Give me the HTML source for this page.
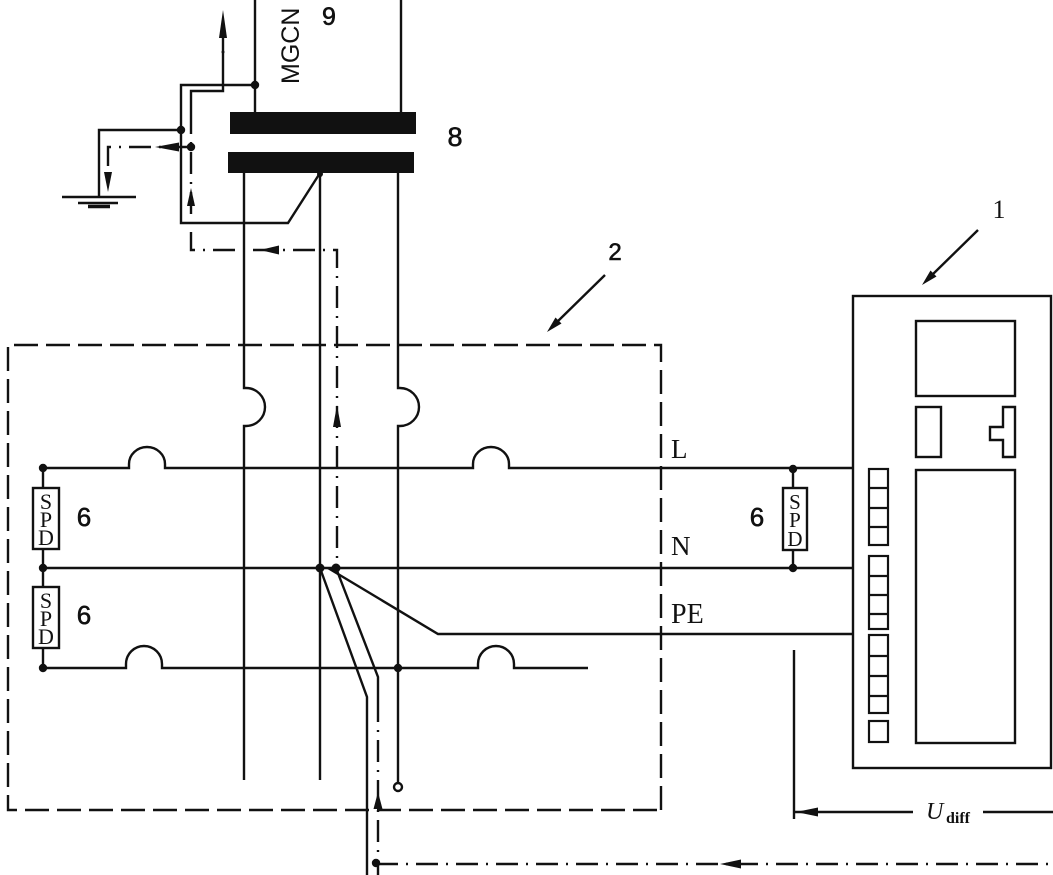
<!DOCTYPE html>
<html><head><meta charset="utf-8"><style>
html,body{margin:0;padding:0;background:#fff;}
svg{display:block;}
</style></head><body>
<svg width="1053" height="875" viewBox="0 0 1053 875" xmlns="http://www.w3.org/2000/svg">
<rect x="0" y="0" width="1053" height="875" fill="#fff"/>
<g fill="none" stroke="#111" stroke-width="2.4" stroke-linejoin="miter">
<line x1="255" y1="0" x2="255" y2="113"/>
<line x1="401" y1="0" x2="401" y2="113"/>
<polyline points="255,85 181,85 181,223 288,223 320,173"/>
<polyline points="181,130 99,130 99,197"/>
<line x1="62" y1="197" x2="136" y2="197"/>
<line x1="78" y1="203" x2="118" y2="203"/>
<line x1="88" y1="206.5" x2="110" y2="206.5" stroke-width="3.5"/>
<polyline points="223,60 223,91 191,91 191,112"/>
<path d="M244 173 V388 H246 A19 19 0 0 1 246 426 H244 V780"/>
<line x1="320" y1="173" x2="320" y2="780"/>
<path d="M398 173 V388 H400 A19 19 0 0 1 400 426 H398 V783"/>
<path d="M43 468 H129 V464 A18 17 0 0 1 165 464 V468 H473 V464 A18 17 0 0 1 509 464 V468 H853"/>
<line x1="43" y1="568" x2="853" y2="568"/>
<path d="M43 668 H126 V664 A18 18 0 0 1 162 664 V668 H478 V664 A18 18 0 0 1 514 664 V668 H588"/>
<polyline points="328,568 438,634 853,634"/>
<polyline points="320,568 367,697 367,875"/>
<polyline points="336,568 378,677 378,700"/>
<line x1="43" y1="468" x2="43" y2="488"/>
<rect x="33" y="488" width="26" height="61"/>
<line x1="43" y1="549" x2="43" y2="587"/>
<rect x="33" y="587" width="26" height="61"/>
<line x1="43" y1="648" x2="43" y2="668"/>
<line x1="793" y1="469" x2="793" y2="488"/>
<rect x="783" y="488" width="24" height="62"/>
<line x1="793" y1="550" x2="793" y2="568"/>
<polyline points="794,650 794,819"/>
<line x1="794" y1="812" x2="913" y2="812"/>
<line x1="983" y1="812" x2="1053" y2="812"/>
<rect x="853" y="296" width="198" height="472"/>
<rect x="916" y="321" width="99" height="75"/>
<rect x="916" y="407" width="25" height="50"/>
<path d="M1003 407 H1015 V457 H1003 V440 H990 V427 H1003 Z"/>
<rect x="916" y="470" width="99" height="273"/>
<g stroke-width="2.2">
<rect x="869" y="469" width="19" height="76"/>
<line x1="869" y1="488" x2="888" y2="488"/>
<line x1="869" y1="508" x2="888" y2="508"/>
<line x1="869" y1="527" x2="888" y2="527"/>
<rect x="869" y="556" width="19" height="73"/>
<line x1="869" y1="576" x2="888" y2="576"/>
<line x1="869" y1="595" x2="888" y2="595"/>
<line x1="869" y1="614" x2="888" y2="614"/>
<rect x="869" y="635" width="19" height="78"/>
<line x1="869" y1="656" x2="888" y2="656"/>
<line x1="869" y1="676" x2="888" y2="676"/>
<line x1="869" y1="696" x2="888" y2="696"/>
<rect x="869" y="721" width="19" height="21"/>
</g>
<circle cx="398" cy="787" r="4"/>
<line x1="605" y1="275" x2="556" y2="323"/>
<line x1="978" y1="230" x2="931" y2="276"/>
</g>
<g fill="none" stroke="#111" stroke-width="2.4" stroke-dasharray="24 8">
<path d="M661 810 V345 H8 V810 H661"/>
</g>
<g fill="none" stroke="#111" stroke-width="2.4" stroke-dasharray="22 8 2 8">
<line x1="223" y1="60" x2="223" y2="36"/>
<polyline points="191,112 191,250 337,250 337,568"/>
<polyline points="191,147 108,147 108,178"/>
<line x1="378" y1="700" x2="378" y2="875"/>
<line x1="376" y1="864" x2="1053" y2="864"/>
</g>
<g fill="#111" stroke="none">
<polygon points="223,10 219,38 227,38"/>
<circle cx="223" cy="52" r="1.5"/>
<polygon points="155,147 179,142.5 179,151.5"/>
<polygon points="108,192 104,172 112,172"/>
<polygon points="191,188 187,206 195,206"/>
<polygon points="260,250 279,245.5 279,254.5"/>
<polygon points="337,405 333,427 341,427"/>
<polygon points="378,792 373.5,809 382.5,809"/>
<polygon points="720,864 741,859.5 741,868.5"/>
<polygon points="796,812 818,807.5 818,816.5"/>
<polygon points="547,332 561.5,323.5 555.5,317.5"/>
<polygon points="922,285 936.5,276.5 930.5,270.5"/>
<rect x="230" y="112" width="186" height="22"/>
<rect x="228" y="152" width="186" height="21"/>
<circle cx="255" cy="85" r="4.2"/>
<circle cx="181" cy="130" r="4.2"/>
<circle cx="191" cy="147" r="4.2"/>
<circle cx="320" cy="174" r="3"/>
<circle cx="43" cy="468" r="4.2"/>
<circle cx="43" cy="568" r="4.2"/>
<circle cx="43" cy="668" r="4.2"/>
<circle cx="320" cy="568" r="4.5"/>
<circle cx="336" cy="568" r="4.5"/>
<circle cx="398" cy="668" r="4.2"/>
<circle cx="793" cy="469" r="4.2"/>
<circle cx="793" cy="568" r="4.2"/>
<circle cx="376" cy="863" r="4.2"/>
</g>
<g fill="#111" font-family="Liberation Sans, Arial, sans-serif">
<text x="299" y="84" font-size="25" transform="rotate(-90 299 84)">MGCN</text>
</g>
<g fill="#111" stroke="#111" stroke-width="0.6" font-family="Liberation Sans, Arial, sans-serif">
<text x="329" y="25" font-size="25" text-anchor="middle">9</text>
<text x="455" y="146" font-size="27" text-anchor="middle">8</text>
<text x="615" y="260" font-size="24" text-anchor="middle">2</text>
<text x="84" y="526" font-size="26" text-anchor="middle">6</text>
<text x="84" y="624" font-size="26" text-anchor="middle">6</text>
<text x="757" y="526" font-size="26" text-anchor="middle">6</text>
</g>
<g fill="#111" font-family="Liberation Serif, Times New Roman, serif">
<text x="999" y="218" font-size="26" text-anchor="middle">1</text>
<text x="671" y="458" font-size="27">L</text>
<text x="671" y="555" font-size="27">N</text>
<text x="671" y="623" font-size="28">PE</text>
<text x="46" y="509" font-size="22" text-anchor="middle">S</text>
<text x="46" y="527" font-size="22" text-anchor="middle">P</text>
<text x="46" y="545" font-size="22" text-anchor="middle">D</text>
<text x="46" y="608" font-size="22" text-anchor="middle">S</text>
<text x="46" y="626" font-size="22" text-anchor="middle">P</text>
<text x="46" y="644" font-size="22" text-anchor="middle">D</text>
<text x="795" y="509" font-size="21" text-anchor="middle">S</text>
<text x="795" y="527" font-size="21" text-anchor="middle">P</text>
<text x="795" y="546" font-size="21" text-anchor="middle">D</text>
<text x="926" y="819" font-size="24" font-style="italic">U</text>
<text x="946" y="823" font-size="16" font-weight="bold">diff</text>
</g>
</svg>
</body></html>
